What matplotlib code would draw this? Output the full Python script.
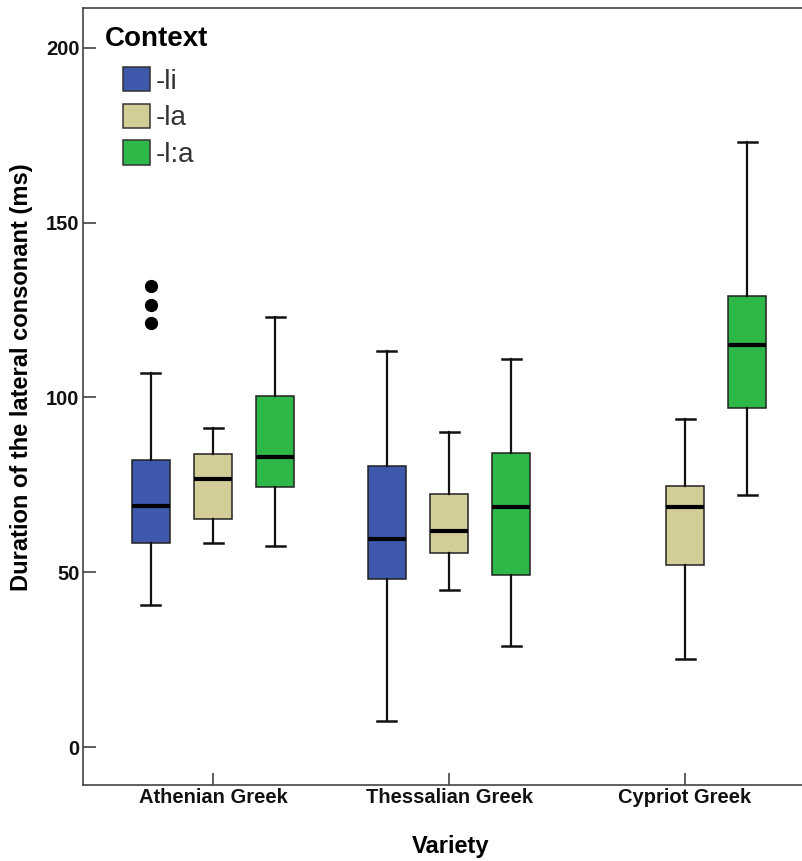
import numpy as np
import matplotlib
matplotlib.use("Agg")
import matplotlib.pyplot as plt
from matplotlib.patches import Patch

plt.rcParams["font.family"] = ["Liberation Sans", "DejaVu Sans"]

varieties = ["Athenian Greek", "Thessalian Greek", "Cypriot Greek"]
contexts = ["-li", "-la", "-l:a"]
colors = ["#3e58ac", "#d3ce97", "#2eb848"]

# five-number summaries per context, one value per variety (nan = no data)
li_lo = [40.7, 7.4, np.nan]
li_q1 = [58.4, 48.1, np.nan]
li_med = [69.0, 59.5, np.nan]
li_q3 = [82.0, 80.5, np.nan]
li_hi = [107.1, 113.4, np.nan]

la_lo = [58.3, 44.8, 25.3]
la_q1 = [65.2, 55.4, 52.1]
la_med = [76.6, 61.8, 68.7]
la_q3 = [83.9, 72.3, 74.8]
la_hi = [91.3, 90.2, 93.9]

lla_lo = [57.6, 28.9, 72.0]
lla_q1 = [74.3, 49.3, 97.1]
lla_med = [82.9, 68.6, 115.1]
lla_q3 = [100.5, 84.0, 129.1]
lla_hi = [123.1, 110.9, 173.0]

li_outliers = [[132.0, 126.3, 121.3], [], []]
la_outliers = [[], [], []]
lla_outliers = [[], [], []]

series = [
    (li_lo, li_q1, li_med, li_q3, li_hi, li_outliers),
    (la_lo, la_q1, la_med, la_q3, la_hi, la_outliers),
    (lla_lo, lla_q1, lla_med, lla_q3, lla_hi, lla_outliers),
]

W, H = 803, 861
fig = plt.figure(figsize=(W / 100, H / 100), dpi=100)
ax = fig.add_axes([83 / W, (H - 785) / H, 720 / W, 777 / H])

offsets = [-0.263, 0.0, 0.263]
box_w = 0.161
for k, (lo, q1, med, q3, hi, outl) in enumerate(series):
    stats, pos = [], []
    for i in range(len(varieties)):
        if np.isnan(med[i]):
            continue
        stats.append(dict(whislo=lo[i], q1=q1[i], med=med[i], q3=q3[i],
                          whishi=hi[i], fliers=outl[i]))
        pos.append(i + offsets[k])
    ax.bxp(stats, positions=pos, widths=box_w, patch_artist=True,
           showfliers=True, capwidths=box_w * 0.5,
           boxprops=dict(facecolor=colors[k], edgecolor="#222222", linewidth=1.1),
           medianprops=dict(color="black", linewidth=3.0, solid_capstyle="butt"),
           whiskerprops=dict(color="#111111", linewidth=1.6),
           capprops=dict(color="#111111", linewidth=1.8),
           flierprops=dict(marker="o", markerfacecolor="black",
                           markeredgecolor="black", markersize=8.5))

ax.set_xlim(-0.551, 2.5)
ax.set_ylim(-10.87, 211.4)
ax.set_xticks(range(len(varieties)))
ax.set_xticklabels(varieties)
ax.set_yticks([0, 50, 100, 150, 200])

for s in ["left", "top", "bottom"]:
    ax.spines[s].set_color("#444444")
    ax.spines[s].set_linewidth(1.2)
ax.spines["right"].set_visible(False)
ax.tick_params(direction="in", length=9, width=1.1, color="#333333",
               labelsize=14.5, pad=2.5)
for lab in ax.get_xticklabels() + ax.get_yticklabels():
    lab.set_fontweight("bold")
    lab.set_color("#111111")

ax.set_ylabel("Duration of the lateral consonant (ms)", fontsize=17, fontweight="bold")
ax.yaxis.set_label_coords(-0.085, 0.525)
ax.yaxis.label.set_va("center")
ax.set_xlabel("Variety", fontsize=17, fontweight="bold")
ax.xaxis.set_label_coords(0.51, -0.079)
ax.xaxis.label.set_va("center")

# legend
ax.text(0.0306, 0.951, "Context", transform=ax.transAxes, fontsize=20,
        fontweight="bold", va="baseline", ha="left")
handles = [Patch(facecolor=c, edgecolor="#333333", linewidth=1.1) for c in colors]
leg = ax.legend(handles, contexts, loc="upper left", bbox_to_anchor=(0.0556, 0.924),
                frameon=False, fontsize=20, handlelength=0.97, handleheight=0.97,
                labelspacing=0.32, handletextpad=0.2, borderpad=0, borderaxespad=0)
for t in leg.get_texts():
    t.set_color("#333333")

fig.savefig("out.png", dpi=100)
